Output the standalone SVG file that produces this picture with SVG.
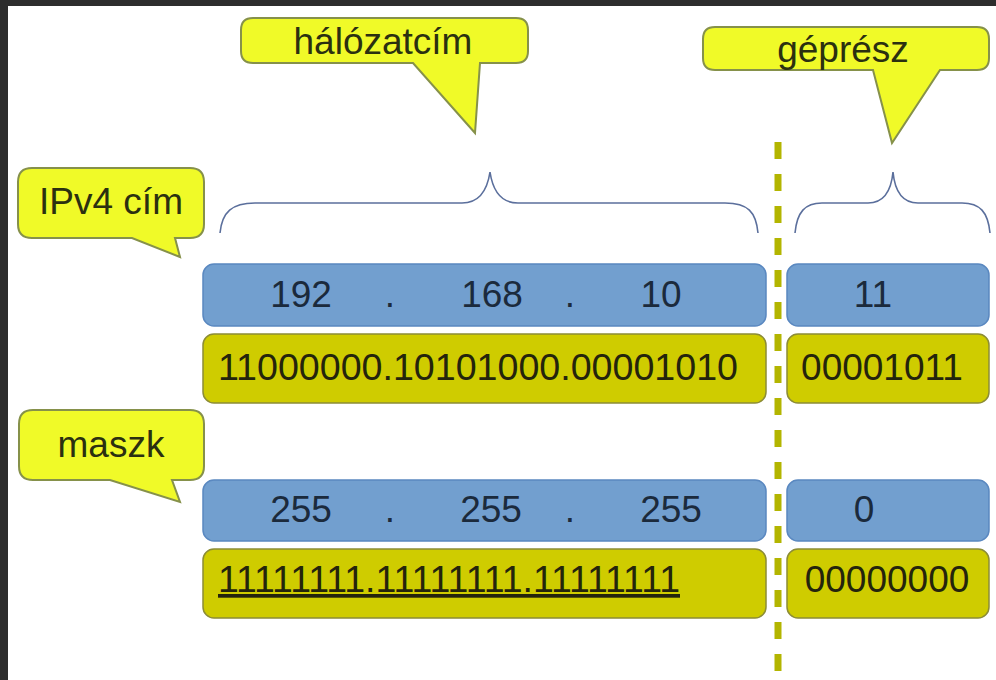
<svg xmlns="http://www.w3.org/2000/svg" width="996" height="680" viewBox="0 0 996 680">
<style>
.callout{fill:#f0fa28;stroke:#86914a;stroke-width:2}
.blue{fill:#729fcf;stroke:#5a88c0;stroke-width:1.5}
.yel{fill:#cfcc00;stroke:#8c8c36;stroke-width:1.5}
.ct{font-family:"Liberation Sans",Arial,sans-serif;font-size:37px;fill:#2b3010;text-anchor:middle}
.bt{font-family:"Liberation Sans",Arial,sans-serif;font-size:37px;fill:#1b2a3c;text-anchor:middle}
.yt{font-family:"Liberation Sans",Arial,sans-serif;font-size:37px;fill:#24240c}
.brace{fill:none;stroke:#5b6f9c;stroke-width:1.6}
.sep{fill:none;stroke:#b3b500;stroke-width:7;stroke-dasharray:17 15}
</style>
<rect x="0" y="0" width="996" height="680" fill="#2d2d2d"/>
<rect x="8" y="6" width="988" height="674" fill="#ffffff"/>

<g id="connectors">
  <path class="brace" d="M220,233 C222,212 232,203 255,203 H462 C478,203 487,192 490,172 C493,192 502,203 518,203 H725 C748,203 756,212 758,233"/>
  <path class="brace" d="M795,233 C797,212 805,203 822,203 H868 C883,203 891,193 893,172 C895,193 903,203 918,203 H962 C980,203 988,212 990,233"/>
  <line class="sep" x1="778" y1="142" x2="778" y2="671"/>
</g>

<g id="halozatcim">
  <path class="callout" d="M253,18 H516 Q528,18 528,30 V51 Q528,63 516,63 H480 L475,133 L413,63 H253 Q241,63 241,51 V30 Q241,18 253,18 Z"/>
  <text class="ct" x="383" y="54">hálózatcím</text>
</g>

<g id="gepresz">
  <path class="callout" d="M715,27 H977 Q989,27 989,39 V58 Q989,70 977,70 H940 L892,143 L873,70 H715 Q703,70 703,58 V39 Q703,27 715,27 Z"/>
  <text class="ct" x="843" y="62">géprész</text>
</g>

<g id="ipv4cim">
  <path class="callout" d="M32,168 H190 Q204,168 204,182 V224 Q204,238 190,238 H175 L180,257 L132,238 H32 Q18,238 18,224 V182 Q18,168 32,168 Z"/>
  <text class="ct" x="111" y="214">IPv4 cím</text>
</g>

<g id="maszk">
  <path class="callout" d="M33,410 H190 Q204,410 204,424 V466 Q204,480 190,480 H172 L180,502 L110,480 H33 Q19,480 19,466 V424 Q19,410 33,410 Z"/>
  <text class="ct" x="111" y="457">maszk</text>
</g>

<g id="ip-dec-net">
  <rect class="blue" x="203" y="264" width="563" height="62" rx="11"/>
  <text class="bt" x="301" y="307">192</text>
  <text class="bt" x="390" y="307">.</text>
  <text class="bt" x="492" y="307">168</text>
  <text class="bt" x="570" y="307">.</text>
  <text class="bt" x="661" y="307">10</text>
</g>
<g id="ip-dec-host">
  <rect class="blue" x="787" y="264" width="202" height="62" rx="11"/>
  <text class="bt" x="873" y="307">11</text>
</g>
<g id="ip-bin-net">
  <rect class="yel" x="203" y="334" width="563" height="69" rx="11"/>
  <text class="yt" x="218" y="380" textLength="520" lengthAdjust="spacingAndGlyphs">11000000.10101000.00001010</text>
</g>
<g id="ip-bin-host">
  <rect class="yel" x="787" y="334" width="202" height="69" rx="11"/>
  <text class="yt" x="882" y="380" text-anchor="middle">00001011</text>
</g>

<g id="mask-dec-net">
  <rect class="blue" x="203" y="480" width="563" height="61" rx="11"/>
  <text class="bt" x="301" y="522">255</text>
  <text class="bt" x="390" y="522">.</text>
  <text class="bt" x="491" y="522">255</text>
  <text class="bt" x="570" y="522">.</text>
  <text class="bt" x="671" y="522">255</text>
</g>
<g id="mask-dec-host">
  <rect class="blue" x="787" y="480" width="202" height="61" rx="11"/>
  <text class="bt" x="864" y="522">0</text>
</g>
<g id="mask-bin-net">
  <rect class="yel" x="203" y="549" width="563" height="69" rx="11"/>
  <text class="yt" x="218" y="592" textLength="462" lengthAdjust="spacingAndGlyphs" text-decoration="underline">11111111.11111111.11111111</text>
</g>
<g id="mask-bin-host">
  <rect class="yel" x="787" y="549" width="202" height="69" rx="11"/>
  <text class="yt" x="887" y="592" text-anchor="middle">00000000</text>
</g>
</svg>
